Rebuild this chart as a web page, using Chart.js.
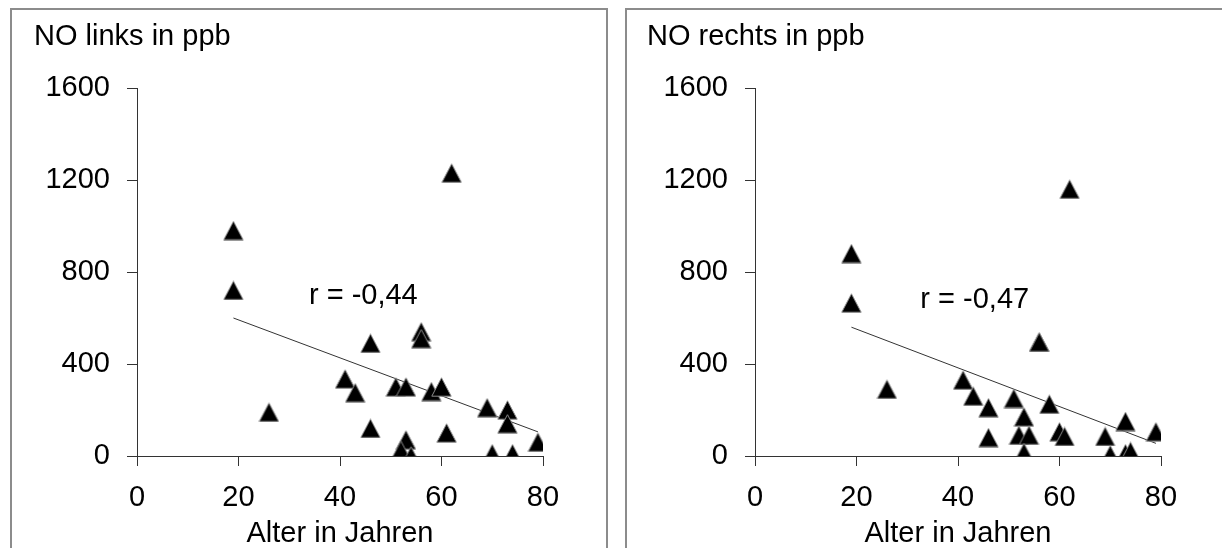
<!DOCTYPE html>
<html lang="de">
<head>
<meta charset="utf-8">
<title>NO und Alter</title>
<script src="https://cdn.jsdelivr.net/npm/chart.js@4.4.1/dist/chart.umd.min.js"></script>
<style>
    html, body { margin: 0; padding: 0; background: #fff; }
    body { width: 1222px; height: 548px; overflow: hidden; position: relative; }
    .panel { position: absolute; top: 8px; height: 620px; box-sizing: border-box; border: 2px solid #8c8c8c; }
    #panel-left { left: 10px; width: 598px; }
    #panel-right { left: 625px; width: 700px; }
    canvas { position: absolute; top: 10px; }
    #chart-left { left: 12px; }
    #chart-right { left: 630px; }
</style>
</head>
<body>
<div class="panel" id="panel-left"></div>
<div class="panel" id="panel-right"></div>
<canvas id="chart-left" width="594" height="538"></canvas>
<canvas id="chart-right" width="594" height="538"></canvas>
<script>
/* =============================================================================
DATA
============================================================================= */

const ageLeft = [62, 19, 19, 26, 46, 46, 41, 43, 56, 56, 51, 53, 58, 60, 69, 73, 73, 61, 79, 53, 52, 54, 70, 74];
const noLeft = [1230, 980, 720, 190, 490, 120, 335, 275, 540, 510, 300, 300, 280, 300, 210, 200, 140, 100, 60, 70, 25, 0, 10, 10];

const ageRight = [62, 19, 19, 26, 41, 43, 46, 46, 56, 56, 51, 53, 52, 54, 53, 58, 60, 61, 69, 70, 73, 73, 74, 79];
const noRight = [1160, 880, 665, 290, 330, 260, 210, 80, 495, 495, 250, 170, 90, 90, 15, 225, 105, 85, 85, 5, 150, 10, 20, 105];

// regression line end points (age, ppb)
const trendAges = [19, 79];
const trendLeft = [600, 105];
const trendRight = [560, 55];

const rLeft = 'r = -0,44';
const rRight = 'r = -0,47';

const xTicks = [0, 20, 40, 60, 80];
const yTicks = [0, 400, 800, 1200, 1600];

/* =============================================================================
DRAWING HELPERS
============================================================================= */

const FONT_FAMILY = "'Liberation Sans', Arial, sans-serif";
const FONT_SIZE = 29;
const TEXT_FONT = { family: FONT_FAMILY, size: FONT_SIZE, weight: 'normal', lineHeight: 1.2 };

function triangleMarker() {
    const c = document.createElement('canvas');
    c.width = 21;
    c.height = 20;
    const g = c.getContext('2d');
    g.fillStyle = '#000';
    g.strokeStyle = '#8a8a8a';
    g.lineWidth = 1;
    g.beginPath();
    g.moveTo(10.5, 0.8);
    g.lineTo(20.2, 19.2);
    g.lineTo(0.8, 19.2);
    g.closePath();
    g.fill();
    g.stroke();
    return c;
}

const marker = triangleMarker();

// writes the correlation coefficient at a data position inside the plot
const correlationLabel = {
    id: 'correlationLabel',
    afterDatasetsDraw(chart, args, opts) {
        const { ctx, scales: { x, y } } = chart;
        ctx.save();
        ctx.font = `${FONT_SIZE}px ${FONT_FAMILY}`;
        ctx.fillStyle = '#000';
        ctx.textAlign = 'center';
        ctx.textBaseline = 'middle';
        ctx.fillText(opts.text, x.getPixelForValue(opts.x), y.getPixelForValue(opts.y));
        ctx.restore();
    }
};

function toPoints(xs, ys) {
    return xs.map((v, i) => ({ x: v, y: ys[i] }));
}

function renderPanel(canvasId, title, ages, values, trendValues, rText, rAt, titleInset) {
    const ctx = document.getElementById(canvasId).getContext('2d');

    return new Chart(ctx, {
        type: 'scatter',
        data: {
            datasets: [{
                data: toPoints(ages, values),
                pointStyle: marker,
                pointRadius: 10,
                pointHoverRadius: 10
            }, {
                data: toPoints(trendAges, trendValues),
                showLine: true,
                borderColor: '#333',
                borderWidth: 1,
                pointRadius: 0
            }]
        },
        options: {
            responsive: false,
            animation: false,
            devicePixelRatio: 1,
            events: [],
            layout: { padding: { top: 9.5, left: titleInset, right: 63, bottom: 0 } },
            plugins: {
                legend: { display: false },
                tooltip: { enabled: false },
                title: {
                    display: true,
                    text: title,
                    align: 'start',
                    color: '#000',
                    font: TEXT_FONT,
                    padding: { top: 0, bottom: 33.7 }
                },
                correlationLabel: { text: rText, x: rAt.x, y: rAt.y }
            },
            scales: {
                x: {
                    type: 'linear',
                    min: xTicks[0],
                    max: xTicks[xTicks.length - 1],
                    afterFit: (scale) => { scale.height = 92; },
                    afterBuildTicks: (scale) => { scale.ticks = xTicks.map(v => ({ value: v })); },
                    ticks: { color: '#000', font: TEXT_FONT, padding: 15, maxRotation: 0, callback: v => String(v) },
                    grid: { drawOnChartArea: false, drawTicks: true, tickLength: 10, color: '#333' },
                    border: { color: '#333', width: 1 },
                    title: {
                        display: true,
                        text: 'Alter in Jahren',
                        color: '#000',
                        font: { family: FONT_FAMILY, size: FONT_SIZE, lineHeight: 1 },
                        padding: { top: 0, bottom: 0 }
                    }
                },
                y: {
                    min: yTicks[0],
                    max: yTicks[yTicks.length - 1],
                    afterFit: (scale) => { scale.width = 125 - titleInset; },
                    afterBuildTicks: (scale) => { scale.ticks = yTicks.map(v => ({ value: v })); },
                    ticks: { color: '#000', font: TEXT_FONT, padding: 17, callback: v => String(v) },
                    grid: { drawOnChartArea: false, drawTicks: true, tickLength: 10, color: '#333' },
                    border: { color: '#333', width: 1 }
                }
            }
        },
        plugins: [correlationLabel]
    });
}

/* =============================================================================
PANELS
============================================================================= */

renderPanel('chart-left', 'NO links in ppb', ageLeft, noLeft, trendLeft, rLeft, { x: 44.6, y: 694 }, 22);
renderPanel('chart-right', 'NO rechts in ppb', ageRight, noRight, trendRight, rRight, { x: 43.3, y: 680 }, 17);
</script>
</body>
</html>
